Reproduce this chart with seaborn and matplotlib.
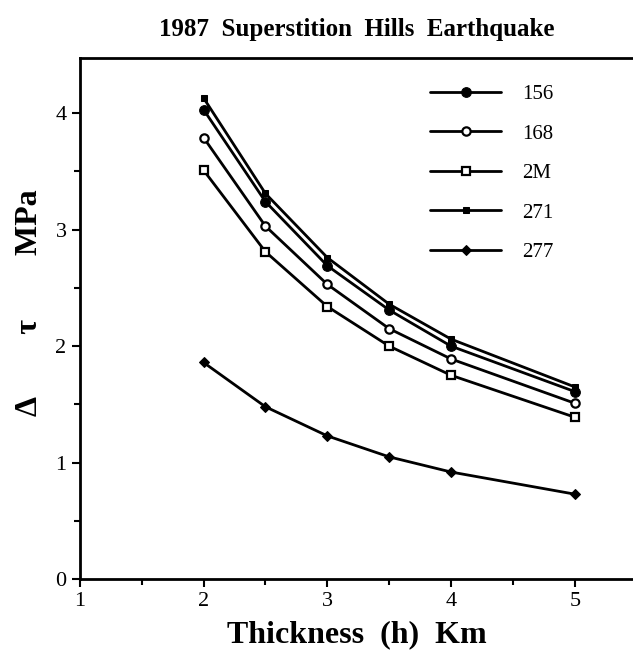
import numpy as np
import pandas as pd
import seaborn as sns
import matplotlib.pyplot as plt
from matplotlib.ticker import MultipleLocator

# Thickness (km)
thickness = [2.0, 2.5, 3.0, 3.5, 4.0, 5.0]

# stress drop (MPa) per station
s156 = [4.03, 3.24, 2.69, 2.31, 2.00, 1.61]
s168 = [3.79, 3.03, 2.53, 2.15, 1.89, 1.51]
s2M = [3.51, 2.81, 2.34, 2.00, 1.75, 1.39]
s271 = [4.13, 3.31, 2.76, 2.36, 2.06, 1.65]
s277 = [1.86, 1.48, 1.23, 1.05, 0.92, 0.73]

stations = ["156", "168", "2M", "271", "277"]
values = [s156, s168, s2M, s271, s277]

df = pd.DataFrame({
    "h": thickness * len(stations),
    "tau": np.concatenate(values),
    "station": np.repeat(stations, len(thickness)),
})

sns.set_style("ticks", {"text.color": "black", "axes.labelcolor": "black",
                        "xtick.color": "black", "ytick.color": "black",
                        "axes.edgecolor": "black"})
plt.rcParams["font.family"] = ["Liberation Serif", "DejaVu Serif"]

fig = plt.figure(figsize=(6.33, 6.62), dpi=100)
ax = fig.add_axes([0.126, 0.125, 0.874, 0.787])

# marker style for each station
styles = {
    "156": dict(marker="o", markersize=7, markerfacecolor="black"),
    "168": dict(marker="o", markersize=6, markerfacecolor="white", markeredgewidth=1.6),
    "2M": dict(marker="s", markersize=6, markerfacecolor="white", markeredgewidth=1.6),
    "271": dict(marker="s", markersize=5, markerfacecolor="black"),
    "277": dict(marker="D", markersize=5, markerfacecolor="black"),
}

for st in stations:
    sub = df[df["station"] == st]
    sns.lineplot(data=sub, x="h", y="tau", ax=ax, color="black", linewidth=2,
                 markeredgecolor="black", label=st, **styles[st])

ax.set_xlim(1, 5.47)
ax.set_ylim(0, 4.47)
ax.xaxis.set_major_locator(MultipleLocator(1))
ax.xaxis.set_minor_locator(MultipleLocator(0.5))
ax.yaxis.set_major_locator(MultipleLocator(1))
ax.yaxis.set_minor_locator(MultipleLocator(0.5))
ax.tick_params(which="both", direction="out", width=1.5, labelsize=16)
ax.tick_params(which="major", length=6)
ax.tick_params(which="minor", length=4)

for side in ["left", "bottom", "top"]:
    ax.spines[side].set_linewidth(2)
ax.spines["right"].set_visible(False)

ax.set_xlabel("Thickness  (h)  Km", fontsize=23, fontweight="bold", labelpad=6)
ax.set_ylabel("Δ        τ        MPa", fontsize=23, fontweight="bold")
ax.yaxis.set_label_coords(-0.065, 0.53)
ax.set_title("1987  Superstition  Hills  Earthquake", fontsize=18, fontweight="bold", pad=16)

leg = ax.legend(loc="upper right", bbox_to_anchor=(0.89, 0.985), frameon=False,
                fontsize=15, handlelength=3.4, labelspacing=0.95, handletextpad=1.0)

fig.savefig("out.png", dpi=100)
